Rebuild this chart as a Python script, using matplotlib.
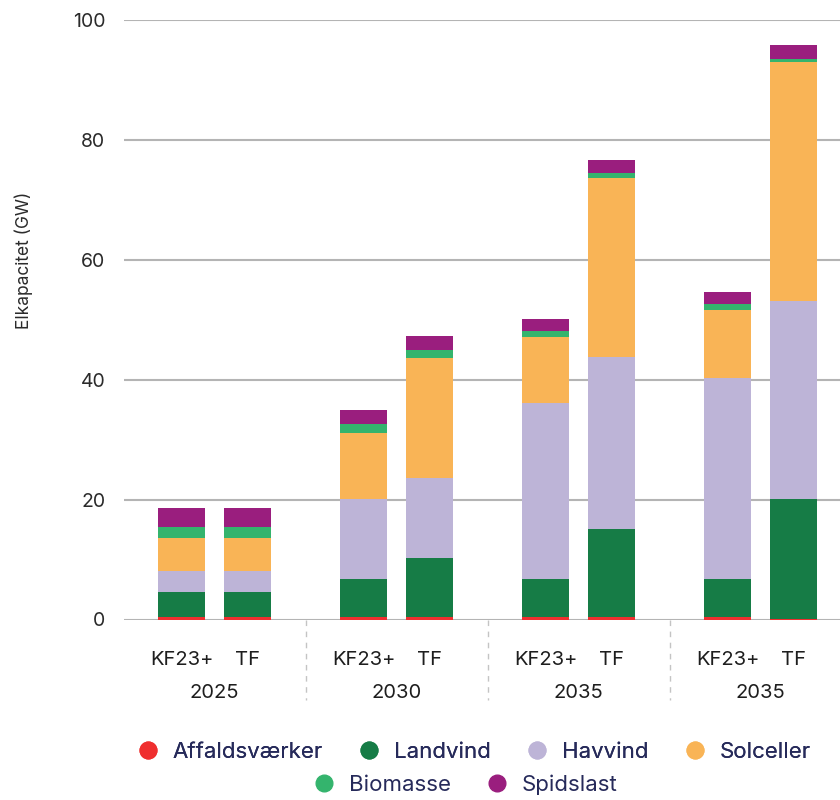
import numpy as np
import matplotlib.pyplot as plt
from matplotlib.lines import Line2D

# values (GW)
groups = ['2025', '2030', '2035', '2035']
scenarios = ['KF23+', 'TF']
series = ['Affaldsværker', 'Landvind', 'Havvind', 'Solceller', 'Biomasse', 'Spidslast']
affald = [0.45, 0.45, 0.35, 0.35, 0.35, 0.35, 0.35, 0.1]
landvind = [4.15, 4.15, 6.4, 9.9, 6.4, 14.8, 6.4, 20.0]
havvind = [3.5, 3.5, 13.3, 13.4, 29.35, 28.6, 33.5, 33.0]
solceller = [5.5, 5.5, 11.05, 19.95, 11.0, 29.85, 11.35, 39.9]
biomasse = [1.85, 1.85, 1.5, 1.35, 1.0, 0.85, 1.0, 0.5]
spidslast = [3.15, 3.15, 2.35, 2.35, 2.05, 2.15, 2.0, 2.35]
colors = ['#ef2f2f', '#167c46', '#bdb4d7', '#f9b456', '#34b46d', '#9a1e7e']

plt.rcParams['font.family'] = ['Inter', 'DejaVu Sans']

fig = plt.figure(figsize=(8.4, 8.0), dpi=100)
# axes slightly wider than the figure, the reference is cut on the right
ax = fig.add_axes([123.5 / 840, 180.5 / 800, 728 / 840, 599.5 / 800])

offset = 0.179
width = 0.258
xpos = []
for g in range(len(groups)):
    xpos += [g - offset, g + offset]
xpos = np.array(xpos)

bottom = np.zeros(len(xpos))
for vals, col in zip([affald, landvind, havvind, solceller, biomasse, spidslast], colors):
    ax.bar(xpos, vals, width, bottom=bottom, color=col, zorder=3)
    bottom += np.array(vals)

ax.set_xlim(-0.5, 3.5)
ax.set_ylim(0, 100)
ax.set_yticks([0, 20, 40, 60, 80, 100])
ax.grid(axis='y', color='#b4b4b4', linewidth=1.5, zorder=0)
for s in ax.spines.values():
    s.set_visible(False)
ax.tick_params(axis='y', length=0, pad=13, labelsize=14, labelcolor='#2b2b2b')
ax.tick_params(axis='x', length=0, pad=23, labelsize=14.5, labelcolor='#1e1e1e')
ax.set_xticks(xpos)
ax.set_xticklabels(scenarios * len(groups))
ax.set_ylabel('Elkapacitet (GW)', fontsize=12.5, color='#2b2b2b')
ax.yaxis.set_label_coords(-90.5 / 728, 0.599)

tr = ax.get_xaxis_transform()
for g, name in enumerate(groups):
    ax.text(g, -0.123, name, transform=tr, ha='center', va='center',
            fontsize=14.5, color='#1e1e1e')
for b in [0.5, 1.5, 2.5]:
    ax.plot([b, b], [0, -0.135], transform=tr, clip_on=False, color='#c4c4c4',
            linewidth=1, linestyle=(0, (4, 4)))

handles = [Line2D([], [], marker='o', linestyle='', markersize=12, color=c) for c in colors]
leg_kw = dict(frameon=False, fontsize=16, handlelength=1.0, handletextpad=0.6,
              columnspacing=1.6, labelcolor='#262a5a', borderaxespad=0)
leg1 = fig.legend(handles[:4], series[:4], ncol=4, loc='center',
                  bbox_to_anchor=(0.564, 0.06), **leg_kw)
fig.add_artist(leg1)
fig.legend(handles[4:], series[4:], ncol=2, loc='center',
           bbox_to_anchor=(0.554, 0.0195), **leg_kw)

fig.savefig('out.png', dpi=100)
